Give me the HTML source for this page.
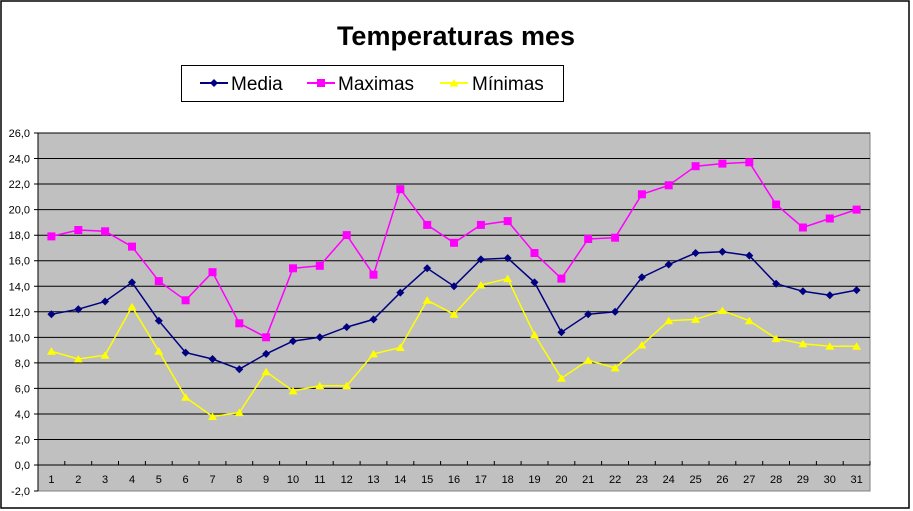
<!DOCTYPE html>
<html><head><meta charset="utf-8"><style>body{margin:0;background:#fff}svg{display:block}</style></head><body>
<svg width="913" height="511" xmlns="http://www.w3.org/2000/svg" font-family="Liberation Sans, Arial, sans-serif">
<defs>
<marker id="d" markerUnits="userSpaceOnUse" markerWidth="10" markerHeight="10" refX="5" refY="5"><path d="M5 1 L9 5 L5 9 L1 5Z" fill="#000080"/></marker>
<marker id="s" markerUnits="userSpaceOnUse" markerWidth="10" markerHeight="10" refX="5" refY="5"><rect x="1" y="1" width="8" height="8" fill="#ff00ff"/></marker>
<marker id="t" markerUnits="userSpaceOnUse" markerWidth="10" markerHeight="10" refX="5" refY="5"><path d="M5 1 L9.5 8.5 L0.5 8.5Z" fill="#ffff00"/></marker>
</defs>
<rect x="1" y="1" width="908" height="507" fill="#fff" stroke="#000" stroke-width="1.5"/>
<text x="456" y="45" font-size="27" font-weight="bold" text-anchor="middle">Temperaturas mes</text>
<rect x="181.5" y="65.5" width="382" height="36" fill="#fff" stroke="#000"/>
<line x1="200" y1="83" x2="228" y2="83" stroke="#000080" stroke-width="2" marker-mid="url(#d)"/>
<polyline points="200,83 214,83 228,83" fill="none" stroke="#000080" stroke-width="2" marker-mid="url(#d)"/>
<text x="231" y="90" font-size="19">Media</text>
<polyline points="307,83 321,83 335,83" fill="none" stroke="#ff00ff" stroke-width="2" marker-mid="url(#s)"/>
<text x="338" y="90" font-size="19">Maximas</text>
<polyline points="440,83 454,83 468,83" fill="none" stroke="#ffff00" stroke-width="2" marker-mid="url(#t)"/>
<text x="472" y="90" font-size="19">Mínimas</text>
<rect x="38" y="133" width="832" height="358" fill="#c0c0c0" stroke="#808080"/>
<g stroke="#000" stroke-width="1">
<line x1="38" y1="133" x2="870" y2="133"/><line x1="38" y1="158.5" x2="870" y2="158.5"/><line x1="38" y1="184" x2="870" y2="184"/><line x1="38" y1="209.6" x2="870" y2="209.6"/><line x1="38" y1="235.2" x2="870" y2="235.2"/><line x1="38" y1="260.7" x2="870" y2="260.7"/><line x1="38" y1="286.3" x2="870" y2="286.3"/><line x1="38" y1="311.8" x2="870" y2="311.8"/><line x1="38" y1="337.4" x2="870" y2="337.4"/><line x1="38" y1="362.9" x2="870" y2="362.9"/><line x1="38" y1="388.4" x2="870" y2="388.4"/><line x1="38" y1="414" x2="870" y2="414"/><line x1="38" y1="439.5" x2="870" y2="439.5"/><line x1="38" y1="465" x2="870" y2="465"/>
<line x1="38" y1="133" x2="38" y2="491"/>
</g>
<g stroke="#000"><path d="M34 133h4M34 158.5h4M34 184h4M34 209.6h4M34 235.2h4M34 260.7h4M34 286.3h4M34 311.8h4M34 337.4h4M34 362.9h4M34 388.4h4M34 414h4M34 439.5h4M34 465h4M34 491h4"/>
<path d="M64.8 465v-4M91.7 465v-4M118.5 465v-4M145.4 465v-4M172.2 465v-4M199 465v-4M225.9 465v-4M252.7 465v-4M279.6 465v-4M306.4 465v-4M333.2 465v-4M360.1 465v-4M386.9 465v-4M413.8 465v-4M440.6 465v-4M467.4 465v-4M494.3 465v-4M521.1 465v-4M548 465v-4M574.8 465v-4M601.6 465v-4M628.5 465v-4M655.3 465v-4M682.2 465v-4M709 465v-4M735.8 465v-4M762.7 465v-4M789.5 465v-4M816.4 465v-4M843.2 465v-4M870 465v-4"/></g>
<g font-size="11" text-anchor="end">
<text x="30" y="137">26,0</text><text x="30" y="162.5">24,0</text><text x="30" y="188">22,0</text><text x="30" y="213.6">20,0</text><text x="30" y="239.2">18,0</text><text x="30" y="264.7">16,0</text><text x="30" y="290.3">14,0</text><text x="30" y="315.8">12,0</text><text x="30" y="341.4">10,0</text><text x="30" y="366.9">8,0</text><text x="30" y="392.4">6,0</text><text x="30" y="418">4,0</text><text x="30" y="443.5">2,0</text><text x="30" y="469">0,0</text><text x="30" y="495">-2,0</text>
</g>
<g font-size="11" text-anchor="middle">
<text x="51.4" y="483">1</text><text x="78.3" y="483">2</text><text x="105.1" y="483">3</text><text x="132" y="483">4</text><text x="158.8" y="483">5</text><text x="185.6" y="483">6</text><text x="212.5" y="483">7</text><text x="239.3" y="483">8</text><text x="266.1" y="483">9</text><text x="293" y="483">10</text><text x="319.8" y="483">11</text><text x="346.7" y="483">12</text><text x="373.5" y="483">13</text><text x="400.3" y="483">14</text><text x="427.2" y="483">15</text><text x="454" y="483">16</text><text x="480.9" y="483">17</text><text x="507.7" y="483">18</text><text x="534.5" y="483">19</text><text x="561.4" y="483">20</text><text x="588.2" y="483">21</text><text x="615.1" y="483">22</text><text x="641.9" y="483">23</text><text x="668.7" y="483">24</text><text x="695.6" y="483">25</text><text x="722.4" y="483">26</text><text x="749.3" y="483">27</text><text x="776.1" y="483">28</text><text x="802.9" y="483">29</text><text x="829.8" y="483">30</text><text x="856.6" y="483">31</text>
</g>
<polyline fill="none" stroke="#ff00ff" stroke-width="1.5" marker-start="url(#s)" marker-mid="url(#s)" marker-end="url(#s)" points="51.4,236.4 78.3,230 105.1,231.3 132,246.6 158.8,281.1 185.6,300.3 212.5,272.2 239.3,323.3 266.1,337.3 293,268.3 319.8,265.8 346.7,235.1 373.5,274.7 400.3,189.2 427.2,224.9 454,242.8 480.9,224.9 507.7,221.1 534.5,253 561.4,278.6 588.2,239 615.1,237.7 641.9,194.3 668.7,185.3 695.6,166.2 722.4,163.6 749.3,162.3 776.1,204.5 802.9,227.5 829.8,218.5 856.6,209.6"/>
<polyline fill="none" stroke="#000080" stroke-width="1.5" marker-start="url(#d)" marker-mid="url(#d)" marker-end="url(#d)" points="51.4,314.3 78.3,309.2 105.1,301.5 132,282.4 158.8,320.7 185.6,352.6 212.5,359 239.3,369.2 266.1,353.9 293,341.1 319.8,337.3 346.7,327.1 373.5,319.4 400.3,292.6 427.2,268.3 454,286.2 480.9,259.4 507.7,258.1 534.5,282.4 561.4,332.2 588.2,314.3 615.1,311.8 641.9,277.3 668.7,264.5 695.6,253 722.4,251.7 749.3,255.6 776.1,283.7 802.9,291.3 829.8,295.2 856.6,290.1"/>
<polyline fill="none" stroke="#ffff00" stroke-width="1.5" marker-start="url(#t)" marker-mid="url(#t)" marker-end="url(#t)" points="51.4,351.3 78.3,359 105.1,355.2 132,306.7 158.8,351.3 185.6,397.3 212.5,416.5 239.3,412.6 266.1,371.8 293,390.9 319.8,385.8 346.7,385.8 373.5,353.9 400.3,347.5 427.2,300.3 454,314.3 480.9,285 507.7,278.6 534.5,334.7 561.4,378.2 588.2,360.3 615.1,367.9 641.9,345 668.7,320.7 695.6,319.4 722.4,310.5 749.3,320.7 776.1,338.6 802.9,343.7 829.8,346.2 856.6,346.2"/>
</svg>
</body></html>
